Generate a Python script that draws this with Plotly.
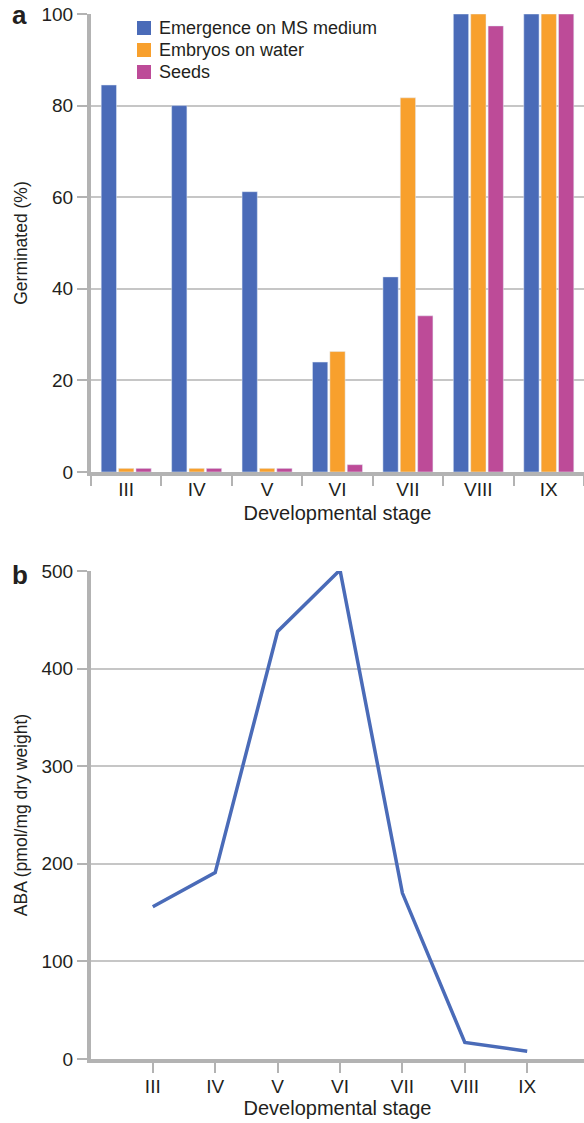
import plotly.graph_objects as go

# Developmental stages shared by both panels
stages = ["III", "IV", "V", "VI", "VII", "VIII", "IX"]

# Panel a: germination (%)
emergence_ms = [84.5, 80.0, 61.2, 24.0, 42.6, 100.0, 100.0]
embryos_water = [0.8, 0.8, 0.8, 26.3, 81.7, 100.0, 100.0]
seeds = [0.8, 0.8, 0.8, 1.6, 34.1, 97.4, 100.0]

# Panel b: ABA content (pmol/mg dry weight)
aba = [156, 191, 438, 501, 170, 17, 8]

W, H = 584, 1123
BLUE = "#4a6bb8"
ORANGE = "#f8a02d"
MAGENTA = "#bd4b98"
AXIS = "#b3b3b3"
GRID = "#c6c6c6"
TEXT = "#231f20"
FONT = "Liberation Sans, Arial, sans-serif"


def px(x):
    return x / W


def py(y):
    return 1 - y / H


series = [
    ("Emergence on MS medium", emergence_ms, BLUE),
    ("Embryos on water", embryos_water, ORANGE),
    ("Seeds", seeds, MAGENTA),
]

fig = go.Figure()
for name, vals, col in series:
    fig.add_trace(go.Bar(x=stages, y=vals, name=name, marker_color=col,
                         showlegend=False, xaxis="x", yaxis="y"))
fig.add_trace(go.Scatter(x=stages, y=aba, mode="lines", showlegend=False,
                         line=dict(color=BLUE, width=3.5),
                         xaxis="x2", yaxis="y2"))

tickfont = dict(family=FONT, size=19, color=TEXT)
titlefont = dict(family=FONT, size=17.5, color=TEXT)
xtitlefont = dict(family=FONT, size=20, color=TEXT)

common_y = dict(showline=True, linecolor=AXIS, linewidth=4, showgrid=True,
                gridcolor=GRID, gridwidth=1.5, ticks="outside", ticklen=10,
                tickcolor=AXIS, tickwidth=1.5, tickfont=tickfont,
                zeroline=False, fixedrange=True, automargin=False)
common_x = dict(showline=True, linecolor=AXIS, linewidth=4, showgrid=False,
                ticks="outside", ticklen=10, tickcolor=AXIS, tickwidth=1.5,
                tickfont=tickfont, zeroline=False, fixedrange=True,
                automargin=False, ticklabelstandoff=-3)

# Legend block for panel a: colour swatch + label per series
shapes = []
annotations = []
for i, (name, _, col) in enumerate(series):
    cy = 28 + 22 * i
    shapes.append(dict(type="rect", xref="paper", yref="paper",
                       x0=px(137), x1=px(151), y0=py(cy + 7), y1=py(cy - 7),
                       fillcolor=col, line=dict(width=0)))
    annotations.append(dict(text=name, x=px(157), y=py(cy), xref="paper",
                            yref="paper", xanchor="left", yanchor="middle",
                            showarrow=False,
                            font=dict(family=FONT, size=18, color=TEXT)))

# Panel letters
for letter, yy in (("a", 15), ("b", 575)):
    annotations.append(dict(text=f"<b>{letter}</b>", x=px(10), y=py(yy),
                            xref="paper", yref="paper", xanchor="left",
                            yanchor="middle", showarrow=False,
                            font=dict(family=FONT, size=26, color=TEXT)))

fig.update_layout(
    width=W, height=H,
    margin=dict(l=0, r=0, t=0, b=0),
    paper_bgcolor="white", plot_bgcolor="white",
    barmode="group", bargap=0.26, bargroupgap=0.12,
    font=dict(family=FONT, color=TEXT),
    showlegend=False,
    xaxis=dict(common_x, domain=[px(91), 1], anchor="y",
               range=[-0.5, 6.5], tickson="boundaries",
               title=dict(text="Developmental stage", font=xtitlefont, standoff=8)),
    yaxis=dict(common_y, domain=[py(472), py(14)], anchor="x",
               range=[0, 100], tickvals=[0, 20, 40, 60, 80, 100],
               title=dict(text="Germinated (%)", font=titlefont, standoff=10)),
    xaxis2=dict(common_x, domain=[px(91), 1], anchor="y2",
                range=[-0.99, 6.91],
                title=dict(text="Developmental stage", font=xtitlefont, standoff=4)),
    yaxis2=dict(common_y, domain=[py(1059), py(571)], anchor="x2",
                range=[0, 500], tickvals=[0, 100, 200, 300, 400, 500],
                title=dict(text="ABA (pmol/mg dry weight)", font=titlefont, standoff=10)),
    shapes=shapes,
    annotations=annotations,
)

fig.write_html("out.html")
